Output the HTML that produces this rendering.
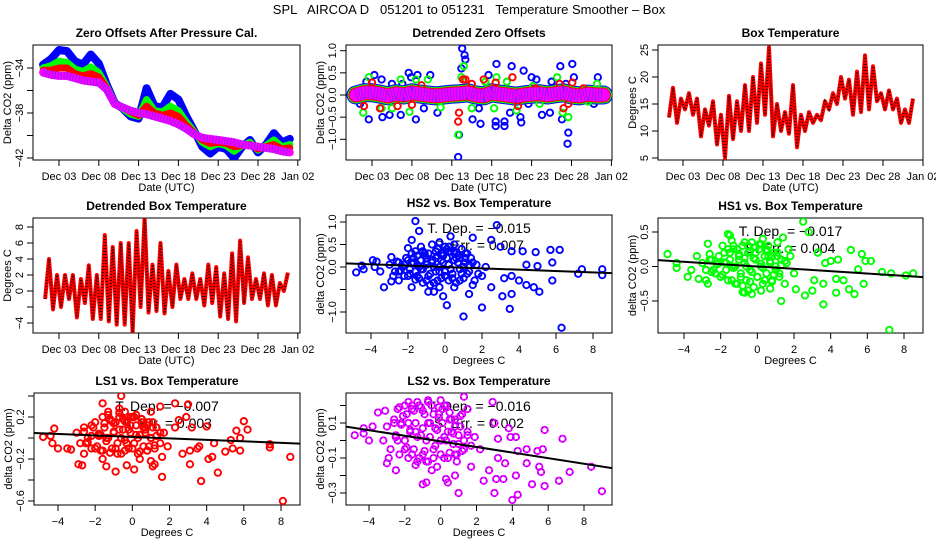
<!DOCTYPE html>
<html><head><meta charset="utf-8">
<style>
html,body{margin:0;padding:0;background:#fff;}
svg{display:block;font-family:"Liberation Sans",Arial,sans-serif;}
</style></head>
<body>
<svg id="c" width="936" height="540" viewBox="0 0 936 540" xmlns="http://www.w3.org/2000/svg">
<rect x="0" y="0" width="936" height="540" fill="#fff"/>
<text x="469" y="14" text-anchor="middle" font-size="13" style="white-space:pre">SPL   AIRCOA D   051201 to 051231   Temperature Smoother – Box</text>
</svg>
<script>
// ---------- Panel 1 data (day index 0..31) ----------
const p1Blue = [-33.7,-33.2,-32.4,-32.5,-33.4,-33.7,-32.8,-33.6,-35.5,-37.1,-37.6,-38.3,-38.5,-35.8,-37.4,-37.5,-36.3,-36.8,-38.3,-39.6,-41.0,-41.6,-41.0,-41.2,-42.0,-41.0,-40.4,-41.5,-40.8,-39.8,-40.6,-40.3];
const p1Green = [-34.0,-33.8,-33.4,-33.5,-34.1,-34.3,-33.9,-34.4,-35.7,-37.1,-37.6,-38.1,-38.3,-36.8,-37.8,-37.9,-37.4,-37.8,-38.8,-39.7,-40.6,-41.0,-40.7,-40.9,-41.4,-40.9,-40.6,-41.3,-40.9,-40.4,-41.0,-40.8];
const p1Red = [-34.2,-34.2,-34.0,-34.0,-34.5,-34.7,-34.5,-34.8,-35.8,-37.2,-37.5,-37.9,-38.2,-37.4,-38.0,-38.2,-38.0,-38.3,-39.1,-39.8,-40.4,-40.7,-40.6,-40.7,-41.0,-40.9,-40.8,-41.2,-41.0,-40.8,-41.2,-41.1];
const p1Mag = [-34.4,-34.6,-34.7,-34.7,-34.9,-35.1,-35.2,-35.3,-35.9,-37.2,-37.5,-37.8,-38.0,-38.1,-38.3,-38.5,-38.7,-39.0,-39.4,-39.9,-40.2,-40.3,-40.4,-40.5,-40.6,-40.8,-40.9,-41.0,-41.1,-41.2,-41.4,-41.5];
// ---------- Panel 2 data ----------
const p2Band = [0.0,0.05,0.05,0.02,-0.02,0.03,0.0,0.05,0.02,0.0,-0.02,0.0,0.02,0.03,0.05,0.0,-0.02,0.05,0.02,0.0,-0.03,0.0,0.02,0.03,0.0,0.03,0.05,0.0,-0.02,0.02,0.0,0.0];
const p2BlueDay = [0.3,0.5,1.3,1.6,2.3,3.2,3.3,4.2,4.5,5.6,5.8,6.6,6.9,7.5,7.7,8.5,9.3,10.2,11.0,12.8,12.9,13.2,13.3,13.6,13.7,14.6,15.4,15.6,16.6,17.6,17.5,17.5,18.6,18.6,19.5,19.3,20.6,20.7,21.0,21.6,22.0,22.6,23.3,24.3,24.5,25.6,25.8,26.5,26.6,27.1,27.3,29.8,30.3,26.3];
const p2BlueVal = [0.0,-0.2,0.3,-0.55,0.45,0.35,-0.5,-0.45,0.25,-0.45,0.25,0.5,0.4,-0.55,0.45,-0.3,0.45,-0.4,0.0,-1.4,-0.9,0.6,1.05,0.9,0.8,-0.55,-0.3,-0.65,0.45,0.7,-0.6,-0.7,-0.6,-0.7,0.65,-0.4,-0.5,-0.62,0.55,-0.2,0.4,0.35,-0.45,-0.4,0.3,0.65,-0.55,-1.1,-0.85,0.7,0.4,-0.2,0.4,0.25];
const p2GreenDay = [0.9,1.6,3.2,4.5,5.6,6.7,7.5,9.0,10.6,12.8,13.5,13.2,14.5,16.2,17.3,17.6,18.9,20.1,22.2,23.0,25.2,25.9,26.6,30.2,29.1];
const p2GreenVal = [-0.4,0.4,-0.3,-0.3,0.35,-0.38,0.35,0.35,-0.28,-0.9,0.65,0.4,-0.3,0.3,-0.3,0.4,0.3,-0.35,0.2,-0.2,0.4,-0.4,-0.5,0.25,-0.15];
const p2RedDay = [1.0,2.0,3.0,5.2,7.0,8.2,12.8,12.9,13.4,13.7,14.5,16.0,17.5,19.6,20.3,22.5,25.5,26.0,26.6,27.1,28.5];
const p2RedVal = [-0.25,0.28,-0.3,-0.25,-0.22,0.22,-0.6,-0.4,0.35,0.35,0.25,0.35,0.28,0.4,-0.25,0.15,0.25,-0.3,-0.2,0.28,0.15];
// ---------- Panel 3 data: daily max / min box temperature ----------
const p3Max = [18,16,17,16,14,15.5,13,16.5,15.5,18.5,20,22.5,25.5,15,13.5,18.5,13,13.5,13,15.5,17,20,19.5,21,24,22,17,17.5,16,14,16];
const p3Min = [12.5,11.5,14,13,9,11,7.5,5,8.5,10,10,11.5,13,9,10,9.5,7,10,11.5,12,14,15,16,13,13.5,14,15.5,14,14,11.5,11.5];
// ---------- Panel 4 data: detrended daily max / min ----------
const p4Max = [4,2,2,2,1.5,3.2,2,7,5.5,6,6,7.5,9.2,3.3,6,2.5,3.3,1.5,2.2,1.5,3.3,3,2.2,4.7,6.3,4.2,1.5,2.2,2,1,2.3];
const p4Min = [-1,-2.3,-2,-1,-3.3,-1.5,-3.5,-3.5,-3.8,-4.2,-4.2,-5.2,-2,-2.7,-2.5,-2.8,-2,-1,-1,-1,-1.8,-1.5,-3.2,-3.5,-3.8,-1.5,-1,-1,-1.8,-1.8,0];
// ---------- dense central cloud (temperature, shared shape) ----------
const cloudTemp = [-2.6,-2.4,-2.1,-1.9,-1.7,-1.5,-1.3,-1.1,-0.9,-0.7,-0.5,-0.3,-0.1,0.1,0.3,0.5,0.7,0.9,1.1,1.3,
 -2.5,-2.2,-2.0,-1.8,-1.6,-1.4,-1.2,-1.0,-0.8,-0.6,-0.4,-0.2,0.0,0.2,0.4,0.6,0.8,1.0,1.2,1.5,
 -1.6,-1.3,-1.0,-0.7,-0.4,-0.1,0.2,0.5,0.8,1.1];
const hs2Cloud = [0.12,-0.08,0.2,-0.15,0.1,0.25,-0.05,0.3,-0.2,0.15,0.35,-0.1,0.25,0.4,-0.05,0.3,0.1,-0.15,0.2,0.05,
 -0.1,0.05,-0.2,0.08,-0.28,0.0,-0.35,0.12,-0.4,0.0,-0.3,0.15,-0.2,0.05,-0.25,0.2,-0.3,0.0,-0.15,0.1,
 0.35,0.45,0.2,0.5,0.25,0.3,0.45,0.35,0.2,0.3];
const hs1Cloud = [0.1,-0.05,0.15,-0.12,0.05,0.2,-0.02,0.25,-0.15,0.12,0.3,-0.08,0.2,0.32,-0.02,0.22,0.08,-0.12,0.15,0.02,
 -0.08,0.03,-0.15,0.06,-0.2,0.0,-0.25,0.1,-0.28,0.0,-0.22,0.12,-0.15,0.04,-0.2,0.15,-0.22,0.0,-0.1,0.08,
 0.25,0.3,0.18,0.35,0.22,0.28,0.32,0.25,0.15,0.2];
const ls1Cloud = [0.06,-0.04,0.1,-0.08,0.03,0.14,0.0,0.16,-0.1,0.08,0.18,-0.05,0.12,0.2,0.0,0.15,0.05,-0.08,0.1,0.02,
 -0.05,0.02,-0.1,0.04,-0.12,0.0,-0.14,0.06,-0.15,0.0,-0.12,0.08,-0.1,0.03,-0.13,0.1,-0.12,0.0,-0.07,0.05,
 0.2,0.22,0.14,0.24,0.16,0.2,0.22,0.18,0.12,0.15];
const ls2Cloud = [0.1,0.0,0.14,-0.04,0.06,0.17,0.02,0.19,-0.06,0.1,0.2,-0.03,0.13,0.18,0.0,0.12,0.04,-0.08,0.08,0.0,
 0.03,0.09,-0.05,0.1,-0.08,0.05,-0.1,0.07,-0.12,0.02,-0.1,0.06,-0.08,0.02,-0.1,0.05,-0.08,-0.02,-0.06,0.03,
 0.2,0.22,0.17,0.23,0.15,0.19,0.2,0.16,0.12,0.14];
// ---------- Panel 5 (HS2) ----------
const hs2Temp = [-4.8,-4.5,-4.4,-3.9,-3.7,-3.3,-2.9,-2.9,-2.5,-2.0,-1.8,-1.6,-1.4,-1.5,-1.8,-1.2,-0.9,-0.6,-0.3,-0.1,0.1,0.3,0.5,1.0,1.3,1.5,1.5,2.0,2.0,2.5,2.5,2.8,3.0,3.2,3.1,3.5,3.6,3.6,3.6,4.0,4.2,4.4,4.4,4.9,4.8,5.1,5.0,5.7,5.8,5.8,6.2,6.3,7.2,7.4,8.5,8.5,
 -3,-2.7,-2.5,-2.3,-2.2,-2,-1.9,-1.7,-1.6,-1.5,-1.4,-1.3,-1.2,-1.1,-1.0,-1,-0.9,-0.8,-0.7,-0.6,-0.5,-0.5,-0.4,-0.3,-0.2,-0.2,-0.1,0,0,0.1,0.2,0.2,0.3,0.4,0.5,0.6,0.7,0.8,0.9,1.0,1.1,1.2,1.3,1.4,1.6,1.7,1.8,2.2,-3.5,-3.8,-2.8,-1.8,0.5,-0.3];
const hs2Val = [-0.12,0.03,-0.05,0.15,0.12,-0.45,0.22,-0.32,-0.3,0.42,0.6,1.02,0.8,-0.2,-0.45,0.35,-0.55,-0.55,0.55,-0.65,-0.85,0.68,-0.45,-1.1,-0.6,0.65,-0.4,-0.9,-0.2,0.6,-0.45,0.93,0.45,-0.25,-0.65,-0.93,0.35,-0.2,-0.6,-0.3,0.35,-0.4,0.05,0.33,-0.45,-0.55,0.02,0.38,0.1,-0.3,0.38,-1.35,-0.15,-0.05,-0.05,-0.18,
 0.05,-0.1,0.1,0.0,-0.2,0.15,-0.05,0.2,-0.1,0.05,-0.25,0.15,-0.05,0.25,-0.3,0.05,0.3,-0.15,0.1,-0.35,0.2,-0.1,0.4,0.0,-0.25,0.3,0.1,-0.1,0.45,0.2,-0.3,0.05,0.35,-0.15,0.15,-0.35,0.25,-0.05,0.4,-0.25,0.1,0.3,-0.1,0.2,-0.3,0.05,-0.15,0.0,-0.1,0.0,-0.2,0.3,0.5,-0.45];
// ---------- Panel 6 (HS1) ----------
const hs1Temp = [-4.9,-4.4,-4.4,-3.8,-3.2,-2.8,-2.7,-2.7,-1.9,-1.6,-1.5,-1.4,-0.8,-0.7,-0.3,0.2,0.7,1.3,1.4,1.7,2.1,2.5,2.6,2.8,3.0,3.1,3.3,3.6,3.6,3.7,4.0,4.3,4.4,4.3,4.7,5.0,5.1,5.3,5.5,5.7,5.8,5.9,6.2,6.8,7.2,7.3,8.1,8.5,
 -3.3,-3,-2.8,-2.5,-2.3,-2.1,-2,-1.8,-1.7,-1.5,-1.4,-1.3,-1.2,-1.1,-1,-0.9,-0.8,-0.7,-0.6,-0.5,-0.4,-0.3,-0.2,-0.1,0,0.1,0.2,0.3,0.4,0.5,0.6,0.7,0.8,0.9,1.0,1.1,1.2,1.3,1.5,1.6,1.8,2.0,-3.6,-2.6,0.3,-0.5];
const hs1Val = [0.18,0.05,-0.02,-0.15,-0.18,-0.2,-0.25,0.33,0.3,0.47,0.45,0.38,-0.37,-0.38,-0.4,-0.35,-0.32,-0.5,0.42,0.25,-0.33,0.65,-0.42,0.5,-0.35,-0.2,0.2,-0.55,-0.25,0.05,0.08,-0.38,0.1,-0.18,-0.2,-0.33,0.24,-0.4,-0.04,0.18,-0.25,0.08,0.08,-0.08,-0.92,-0.1,-0.13,-0.1,
 0.15,0.05,-0.05,0.1,-0.1,0.05,-0.15,0.2,-0.05,0.1,-0.2,0.25,0.0,-0.25,0.15,-0.1,0.3,0.05,-0.2,0.2,-0.05,0.35,-0.3,0.1,-0.15,0.25,0.0,-0.25,0.15,-0.1,0.3,0.05,-0.2,0.2,-0.05,0.35,-0.15,0.1,-0.25,0.05,0.15,-0.1,-0.05,0.18,0.4,-0.35];
// ---------- Panel 7 (LS1) ----------
const ls1Temp = [-4.8,-4.4,-4.3,-4.2,-4.0,-3.5,-3.3,-2.9,-2.7,-2.6,-1.6,-1.4,-1.6,-1.3,-0.9,-0.7,-0.6,-0.3,0.1,0.4,0.7,1.0,1.1,1.5,1.6,1.6,2.3,2.3,2.5,2.7,2.9,3.0,3.1,3.1,3.2,3.5,3.6,3.7,4.0,4.1,4.3,4.4,4.6,5.0,5.3,5.4,5.6,5.8,5.8,6.0,6.2,7.4,7.4,8.1,8.5,
 -3,-2.8,-2.6,-2.4,-2.2,-2,-1.8,-1.7,-1.5,-1.4,-1.2,-1.1,-1,-0.9,-0.8,-0.7,-0.6,-0.5,-0.4,-0.3,-0.2,-0.1,0,0.1,0.2,0.3,0.4,0.5,0.6,0.7,0.8,0.9,1.0,1.2,1.3,1.5,1.7,1.9,1.2,1.0,-2.2,-0.4];
const ls1Val = [0.01,0.02,-0.05,0.09,-0.1,-0.1,-0.11,-0.25,-0.26,-0.15,-0.2,-0.27,0.33,0.25,-0.32,0.28,0.4,-0.26,-0.3,-0.2,0.1,0.25,-0.27,0.3,-0.37,-0.18,0.1,0.33,0.17,-0.15,0.2,0.32,-0.25,-0.12,0.1,-0.1,-0.08,-0.41,0.11,-0.2,-0.18,-0.05,-0.33,-0.13,-0.02,-0.1,0.07,-0.12,0.0,0.16,0.08,-0.09,-0.06,-0.6,-0.18,
 0.05,-0.05,0.1,0.0,-0.1,0.15,0.02,-0.12,0.1,-0.03,0.18,-0.1,0.05,0.15,-0.05,0.2,-0.15,0.08,-0.02,0.15,-0.1,0.05,0.2,-0.05,0.12,-0.15,0.03,0.18,-0.08,0.08,-0.12,0.15,0.0,-0.1,0.1,-0.05,0.05,-0.08,-0.25,-0.22,0.12,0.25];
// ---------- Panel 8 (LS2) ----------
const ls2Temp = [-4.8,-4.3,-4.3,-4.0,-3.8,-3.5,-3.1,-3.0,-2.9,-2.5,-2.3,-2.0,-1.8,-1.4,-1.0,-0.8,-0.7,0.3,0.4,0.8,1.0,1.3,1.5,1.7,2.4,2.7,2.9,3.0,3.0,3.1,3.2,3.2,3.5,3.6,3.8,3.9,4.2,4.2,4.3,4.3,4.8,4.8,5.1,5.4,5.5,5.6,5.7,5.8,5.8,6.6,6.8,7.2,8.4,9.0,4.0,
 -3.2,-3,-2.8,-2.6,-2.5,-2.3,-2.2,-2,-1.9,-1.8,-1.7,-1.6,-1.5,-1.4,-1.3,-1.2,-1.1,-1.0,-0.9,-0.8,-0.7,-0.6,-0.5,-0.4,-0.3,-0.2,-0.1,0,0.1,0.2,0.3,0.4,0.5,0.6,0.7,0.8,0.9,1.0,1.2,1.3,1.5,1.7,1.9,2.2,-2.4,0.0,-0.5];
const ls2Val = [0.03,0.07,0.04,0.0,0.08,0.16,0.17,-0.13,-0.1,-0.17,0.19,0.2,0.22,-0.14,-0.25,-0.24,0.22,-0.22,-0.24,-0.2,-0.3,0.25,0.18,-0.15,-0.23,-0.17,0.22,0.1,-0.3,-0.22,0.01,-0.1,-0.22,-0.13,0.07,0.02,0.02,-0.2,-0.06,-0.31,-0.05,-0.13,-0.25,-0.06,-0.15,-0.18,-0.05,0.06,-0.26,-0.23,0.01,-0.18,-0.15,-0.29,-0.34,
 0.0,0.08,-0.05,0.12,0.02,-0.08,0.1,0.0,0.15,-0.1,0.05,0.18,-0.05,0.1,-0.12,0.2,0.03,-0.08,0.15,0.0,-0.12,0.1,0.2,-0.05,0.07,-0.15,0.15,0.0,0.1,-0.1,0.2,0.05,-0.07,0.12,-0.02,0.08,-0.12,0.03,0.15,-0.05,0.05,-0.03,0.02,-0.05,0.18,0.23,-0.17];
// ---------- regression fits (slope, intercept) ----------
const fitSlope = [-0.015,-0.017,-0.007,-0.016];
const fitIntercept = [0.0,0.0,0.01,-0.005];
const dateTicks = ["Dec 03","Dec 08","Dec 13","Dec 18","Dec 23","Dec 28","Jan 02"];
const dateTickDays = [2,7,12,17,22,27,32];

const NS = "http://www.w3.org/2000/svg";
const svg = document.getElementById('c');
function el(tag, attrs, parent){
  const e = document.createElementNS(NS, tag);
  for (const k in attrs) e.setAttribute(k, attrs[k]);
  (parent||svg).appendChild(e);
  return e;
}
function linScale(v0,p0,v1,p1){ return v => p0 + (v - v0) * (p1 - p0) / (v1 - v0); }

let clipId = 0;
function makePanel(cfg){
  const g = el('g', {});
  
  
  const b = cfg.box;
  const t = el('text', {x:(b.l+b.r)/2, y:b.t-8, 'text-anchor':'middle', 'font-size':'12', 'font-weight':'bold'}, g);
  t.textContent = cfg.title;
  
  
  const rc = el('rect', {x:b.l, y:b.t, width:b.r-b.l, height:b.b-b.t, fill:'none', stroke:'#000', 'stroke-width':'1'}, g);
  
  
  const xa = el('g', {}, g);
  
  
  cfg.xticks.forEach((v,i)=>{
    const x = cfg.xs(v);
    el('line', {x1:x, x2:x, y1:b.b, y2:b.b+6, stroke:'#000'}, xa);
    const lab = cfg.xlabels[i];
    if (lab !== '') {
      const tx = el('text', {x:x, y:b.b+20, 'text-anchor':'middle', 'font-size':'11'}, xa);
      tx.textContent = lab;
      
      
    }
  });
  const xl = el('text', {x:(b.l+b.r)/2, y:b.b+31, 'text-anchor':'middle', 'font-size':'11'}, g);
  xl.textContent = cfg.xtitle;
  
  
  const ya = el('g', {}, g);
  
  
  cfg.yticks.forEach((v,i)=>{
    const y = cfg.ys(v);
    el('line', {x1:b.l-6, x2:b.l, y1:y, y2:y, stroke:'#000'}, ya);
    const lab = cfg.ylabels[i];
    if (lab !== '') {
      const tx = el('text', {x:0, y:0, 'text-anchor':'middle', 'font-size':'11', transform:`translate(${b.l-10},${y}) rotate(-90)`}, ya);
      tx.textContent = lab;
      
      
    }
  });
  const yl = el('text', {x:0, y:0, 'text-anchor':'middle', 'font-size':'11', transform:`translate(${b.l-22},${(b.t+b.b)/2}) rotate(-90)`}, g);
  yl.textContent = cfg.ytitle;
  
  
  clipId++;
  const cp = el('clipPath', {id:'cp'+clipId}, g);
  el('rect', {x:b.l, y:b.t, width:b.r-b.l, height:b.b-b.t}, cp);
  const plot = el('g', {'clip-path':`url(#cp${clipId})`}, g);
  
  
  return plot;
}
function pathFrom(xsArr, ysArr, xs, ys){
  return xsArr.map((v,i)=>(i?'L':'M')+xs(v).toFixed(1)+','+ys(ysArr[i]).toFixed(1)).join(' ');
}
const days = p1Mag.map((_,i)=>i);
function band(plot, vals, xs, ys, color, w, name){
  const p = el('path', {d:pathFrom(days.slice(0,vals.length), vals, xs, ys), fill:'none', stroke:color, 'stroke-width':w, 'stroke-linejoin':'round', 'stroke-linecap':'round'}, plot);
  
  
  return p;
}
function pts(plot, xArr, yArr, xs, ys, color, name, over){
  xArr.forEach((v,i)=>{
    const c = el('circle', {cx:xs(v), cy:ys(yArr[i]), r:3.2, fill:'none', stroke:color, 'stroke-width':'1.9'}, plot);
    
    
    if (over) el('circle', {cx:xs(v), cy:ys(yArr[i]), r:3.2, fill:'none', stroke:over, 'stroke-width':'1', 'stroke-dasharray':'1 3'}, plot);
  });
}
function zigzag(maxArr, minArr){
  const xd=[], yv=[];
  maxArr.forEach((mx,d)=>{ xd.push(d+0.25); yv.push(minArr[d]); xd.push(d+0.75); yv.push(mx); });
  return [xd,yv];
}

// ---- Panel 1 ----
{
  const xs = linScale(2,59,7,98.8), ys = linScale(-34,68,-38,113);
  const plot = makePanel({name:'panel-zero-offsets', box:{l:33,r:300,t:45,b:160}, title:'Zero Offsets After Pressure Cal.', xs, ys,
    xticks:dateTickDays, xlabels:dateTicks, xtitle:'Date (UTC)', yticks:[-42,-40,-38,-36,-34], ylabels:['−42','','−38','','−34'], ytitle:'Delta CO2 (ppm)'});
  band(plot, p1Blue, xs, ys, '#0000ff', 8, 'series-hs2');
  band(plot, p1Green, xs, ys, '#00ff00', 7, 'series-hs1');
  band(plot, p1Red, xs, ys, '#ff0000', 7, 'series-ls1');
  band(plot, p1Mag, xs, ys, '#ff00ff', 8, 'series-ls2');
  const o = band(plot, p1Mag, xs, ys, '#3030ff', 8, 'series-ls2-texture');
  o.setAttribute('stroke-dasharray','1 2'); o.setAttribute('stroke-linecap','butt'); o.setAttribute('opacity','0.55');
}
// ---- Panel 2 ----
{
  const xs = linScale(2,372,7,411.9), ys = linScale(0,95,1,50.7);
  const plot = makePanel({name:'panel-detrended-offsets', box:{l:346,r:612,t:45,b:160}, title:'Detrended Zero Offsets', xs, ys,
    xticks:dateTickDays, xlabels:dateTicks, xtitle:'Date (UTC)', yticks:[-1,-0.5,0,0.5,1], ylabels:['−1.0','−0.5','0.0','0.5','1.0'], ytitle:'Delta CO2 (ppm)'});
  pts(plot, p2BlueDay, p2BlueVal, xs, ys, '#0000ff', 'point-hs2');
  band(plot, p2Band, xs, ys, '#0000ff', 19, 'band-hs2');
  pts(plot, p2GreenDay, p2GreenVal, xs, ys, '#00ff00', 'point-hs1');
  band(plot, p2Band, xs, ys, '#00ff00', 17, 'band-hs1');
  pts(plot, p2RedDay, p2RedVal, xs, ys, '#ff0000', 'point-ls1');
  band(plot, p2Band, xs, ys, '#ff0000', 15, 'band-ls1');
  band(plot, p2Band, xs, ys, '#ff00ff', 13, 'band-ls2');
  const o = band(plot, p2Band, xs, ys, '#3030ff', 13, 'band-ls2-texture');
  o.setAttribute('stroke-dasharray','1 2'); o.setAttribute('stroke-linecap','butt'); o.setAttribute('opacity','0.55');
}
// ---- Panel 3 ----
{
  const xs = linScale(2,683,7,723), ys = linScale(25,50,5,158);
  const plot = makePanel({name:'panel-box-temperature', box:{l:658,r:923,t:45,b:160}, title:'Box Temperature', xs, ys,
    xticks:dateTickDays, xlabels:dateTicks, xtitle:'Date (UTC)', yticks:[5,10,15,20,25], ylabels:['5','10','15','20','25'], ytitle:'Degrees C'});
  const [xd,yv] = zigzag(p3Max, p3Min);
  const p = el('path', {d:pathFrom(xd,yv,xs,ys), fill:'none', stroke:'#ff0000', 'stroke-width':'4', 'stroke-linejoin':'round'}, plot);
   
  el('path', {d:pathFrom(xd,yv,xs,ys), fill:'none', stroke:'#400000', 'stroke-width':'2', 'stroke-dasharray':'1 2'}, plot);
}
// ---- Panel 4 ----
{
  const xs = linScale(2,59,7,98.8), ys = linScale(0,291,8,227);
  const plot = makePanel({name:'panel-detrended-box-temp', box:{l:33,r:300,t:218,b:333}, title:'Detrended Box Temperature', xs, ys,
    xticks:dateTickDays, xlabels:dateTicks, xtitle:'Date (UTC)', yticks:[-4,-2,0,2,4,6,8], ylabels:['−4','','0','2','4','6','8'], ytitle:'Degrees C'});
  const [xd,yv] = zigzag(p4Max, p4Min);
  const p = el('path', {d:pathFrom(xd,yv,xs,ys), fill:'none', stroke:'#ff0000', 'stroke-width':'4', 'stroke-linejoin':'round'}, plot);
   
  el('path', {d:pathFrom(xd,yv,xs,ys), fill:'none', stroke:'#400000', 'stroke-width':'2', 'stroke-dasharray':'1 2'}, plot);
}
// ---- Scatter panels ----
function scatter(cfg, xArr, yArr, cloudV, color, idx, tdep, serr, over){
  const plot = makePanel(cfg);
  const b = cfg.box, cx = (b.l+b.r)/2;
  const t1 = el('text', {x:cx, y:b.t+18, 'text-anchor':'middle', 'font-size':'14'}, plot.parentNode);
  t1.textContent = 'T. Dep. =  ' + tdep;
   
  const t2 = el('text', {x:cx, y:b.t+35, 'text-anchor':'middle', 'font-size':'14'}, plot.parentNode);
  t2.textContent = 'S. Err. =  ' + serr;
   
  plot.parentNode.appendChild(plot);
  pts(plot, xArr, yArr, cfg.xs, cfg.ys, color, 'scatter-point', over);
  pts(plot, cloudTemp, cloudV, cfg.xs, cfg.ys, color, 'scatter-point', over);
  const x0 = -6, x1 = 10;
  const ln = el('line', {x1:cfg.xs(x0), y1:cfg.ys(fitIntercept[idx]+fitSlope[idx]*x0), x2:cfg.xs(x1), y2:cfg.ys(fitIntercept[idx]+fitSlope[idx]*x1), stroke:'#000', 'stroke-width':'2'}, plot);
   
}
const tempTicks = [-4,-2,0,2,4,6,8];
const tempLabels = ['−4','−2','0','2','4','6','8'];
scatter({name:'panel-hs2-vs-temp', box:{l:346,r:612,t:215,b:333}, title:'HS2 vs. Box Temperature', xs:linScale(-4,371,8,593), ys:linScale(0,267,1,222),
  xticks:tempTicks, xlabels:tempLabels, xtitle:'Degrees C', yticks:[-1,-0.5,0,0.5,1], ylabels:['−1.0','','0.0','0.5','1.0'], ytitle:'delta CO2 (ppm)'},
  hs2Temp, hs2Val, hs2Cloud, '#0000ff', 0, '−0.015', '0.007');
scatter({name:'panel-hs1-vs-temp', box:{l:658,r:923,t:218,b:333}, title:'HS1 vs. Box Temperature', xs:linScale(-4,684,8,904), ys:linScale(0,266.5,0.5,232),
  xticks:tempTicks, xlabels:tempLabels, xtitle:'Degrees C', yticks:[-0.5,0,0.5], ylabels:['−0.5','0.0','0.5'], ytitle:'delta CO2 (ppm)'},
  hs1Temp, hs1Val, hs1Cloud, '#00ff00', 1, '−0.017', '0.004');
scatter({name:'panel-ls1-vs-temp', box:{l:34,r:300,t:393,b:505}, title:'LS1 vs. Box Temperature', xs:linScale(-4,58,8,281), ys:linScale(0,438,0.2,417),
  xticks:tempTicks, xlabels:tempLabels, xtitle:'Degrees C', yticks:[-0.6,-0.4,-0.2,0,0.2,0.4], ylabels:['−0.6','','−0.2','','0.2',''], ytitle:'delta CO2 (ppm)'},
  ls1Temp, ls1Val, ls1Cloud, '#ff0000', 2, '−0.007', '0.003');
scatter({name:'panel-ls2-vs-temp', box:{l:346,r:612,t:393,b:505}, title:'LS2 vs. Box Temperature', xs:linScale(-4,369,8,584), ys:linScale(0,440.5,0.1,423),
  xticks:tempTicks, xlabels:tempLabels, xtitle:'Degrees C', yticks:[-0.3,-0.2,-0.1,0,0.1,0.2], ylabels:['−0.3','','−0.1','','0.1',''], ytitle:'delta CO2 (ppm)'},
  ls2Temp, ls2Val, ls2Cloud, '#ff00ff', 3, '−0.016', '0.002', '#0000ff');
</script>
</body></html>
